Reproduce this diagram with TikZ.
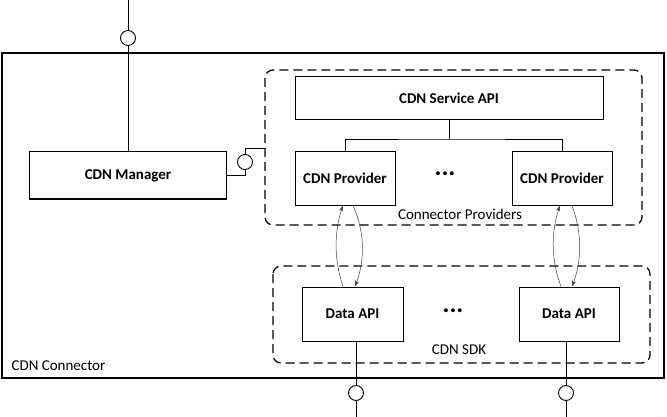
\documentclass[tikz,border=0pt]{standalone}
\usepackage{fontspec}
\setmainfont{Carlito}
\usepackage{tikz}
\usetikzlibrary{arrows.meta}
\usetikzlibrary{positioning}

\tikzset{
  comp/.style={draw=black, line width=1pt, fill=white, font=\fontsize{15}{17}\selectfont\bfseries, inner sep=0pt},
  grp/.style={draw=black, line width=1.3pt, dash pattern=on 9pt off 5pt, rounded corners=8pt},
  pin/.style={circle, draw=black, line width=0.9pt, fill=white, minimum size=15pt, inner sep=0pt},
  wire/.style={line width=0.7pt},
  flow/.style={line width=0.5pt, draw=black!75, -{Stealth[length=6pt,width=4pt]}}
}

\begin{document}
\begin{tikzpicture}[x=1pt,y=-1pt,font=\fontsize{15}{17}\selectfont]
\useasboundingbox (0,0) rectangle (667,417);

% outer component
\draw[line width=2.2pt] (2,53) rectangle (664,378);
\node[anchor=west] (conlbl) at (8,366) {CDN Connector};

% groups
\draw[grp] (265,70) rectangle (642,225);
\draw[grp] (273,266) rectangle (650,363);
\coordinate (cpedge) at (265,148);
\node (cplbl) at (460,214) {Connector Providers};
\node (sdklbl) at (459,350) {CDN SDK};

% components
\node[comp, minimum width=197pt, minimum height=47pt] (mgr) at (128,175.5) {CDN Manager};
\node[comp, minimum width=308pt, minimum height=43pt] (svc) at (449,98.5) {CDN Service API};
\node[comp, minimum width=100pt, minimum height=53pt] (prov1) at (345,178.5) {CDN Provider};
\node[comp, minimum width=100pt, minimum height=53pt] (prov2) at (562,178.5) {CDN Provider};
\node[comp, minimum width=101pt, minimum height=54pt] (dapi1) at (352.5,314) {Data API};
\node[comp, minimum width=100pt, minimum height=54pt] (dapi2) at (569,314) {Data API};
\node[font=\fontsize{26}{26}\selectfont\bfseries] (dots1) at (445,174) {...};
\node[font=\fontsize{26}{26}\selectfont\bfseries] (dots2) at (453,311) {...};

% tree under the service api
\draw[wire] (svc.south) -- ++(0,18.5) coordinate (split);
\draw[wire] (prov1.north) |- (split) -| (prov2.north);

% interfaces
\coordinate (topend) at (128,0);
\coordinate (b1end) at (356,417);
\coordinate (b2end) at (566,417);
\node[pin] (pintop) at (128,38) {};
\node[pin] (pinmgr) at (245,162) {};
\node[pin] (pinb1) at (356,393) {};
\node[pin] (pinb2) at (566,393) {};
\draw[wire] (topend) -- (pintop);
\draw[wire] (pintop) -- (mgr);
\draw[wire] (mgr.east) -| (pinmgr.south);
\draw[wire] (pinmgr.north) |- (cpedge);
\draw[wire] ([xshift=3.5pt]dapi1.south) -- (pinb1.north);
\draw[wire] (pinb1) -- (b1end);
\draw[wire] ([xshift=-3pt]dapi2.south) -- (pinb2.north);
\draw[wire] (pinb2) -- (b2end);

% calls between providers and sdk
\draw[flow] ([xshift=-9.5pt]dapi1.north) .. controls (334,260) and (334,232) .. ([xshift=-2pt]prov1.south);
\draw[flow] ([xshift=8pt]prov1.south) .. controls (365,232) and (365,260) .. ([xshift=2.5pt]dapi1.north);
\draw[flow] ([xshift=-8pt]dapi2.north) .. controls (551,260) and (551,232) .. ([xshift=-2pt]prov2.south);
\draw[flow] ([xshift=10pt]prov2.south) .. controls (582,232) and (582,260) .. ([xshift=3pt]dapi2.north);
\end{tikzpicture}
\end{document}
